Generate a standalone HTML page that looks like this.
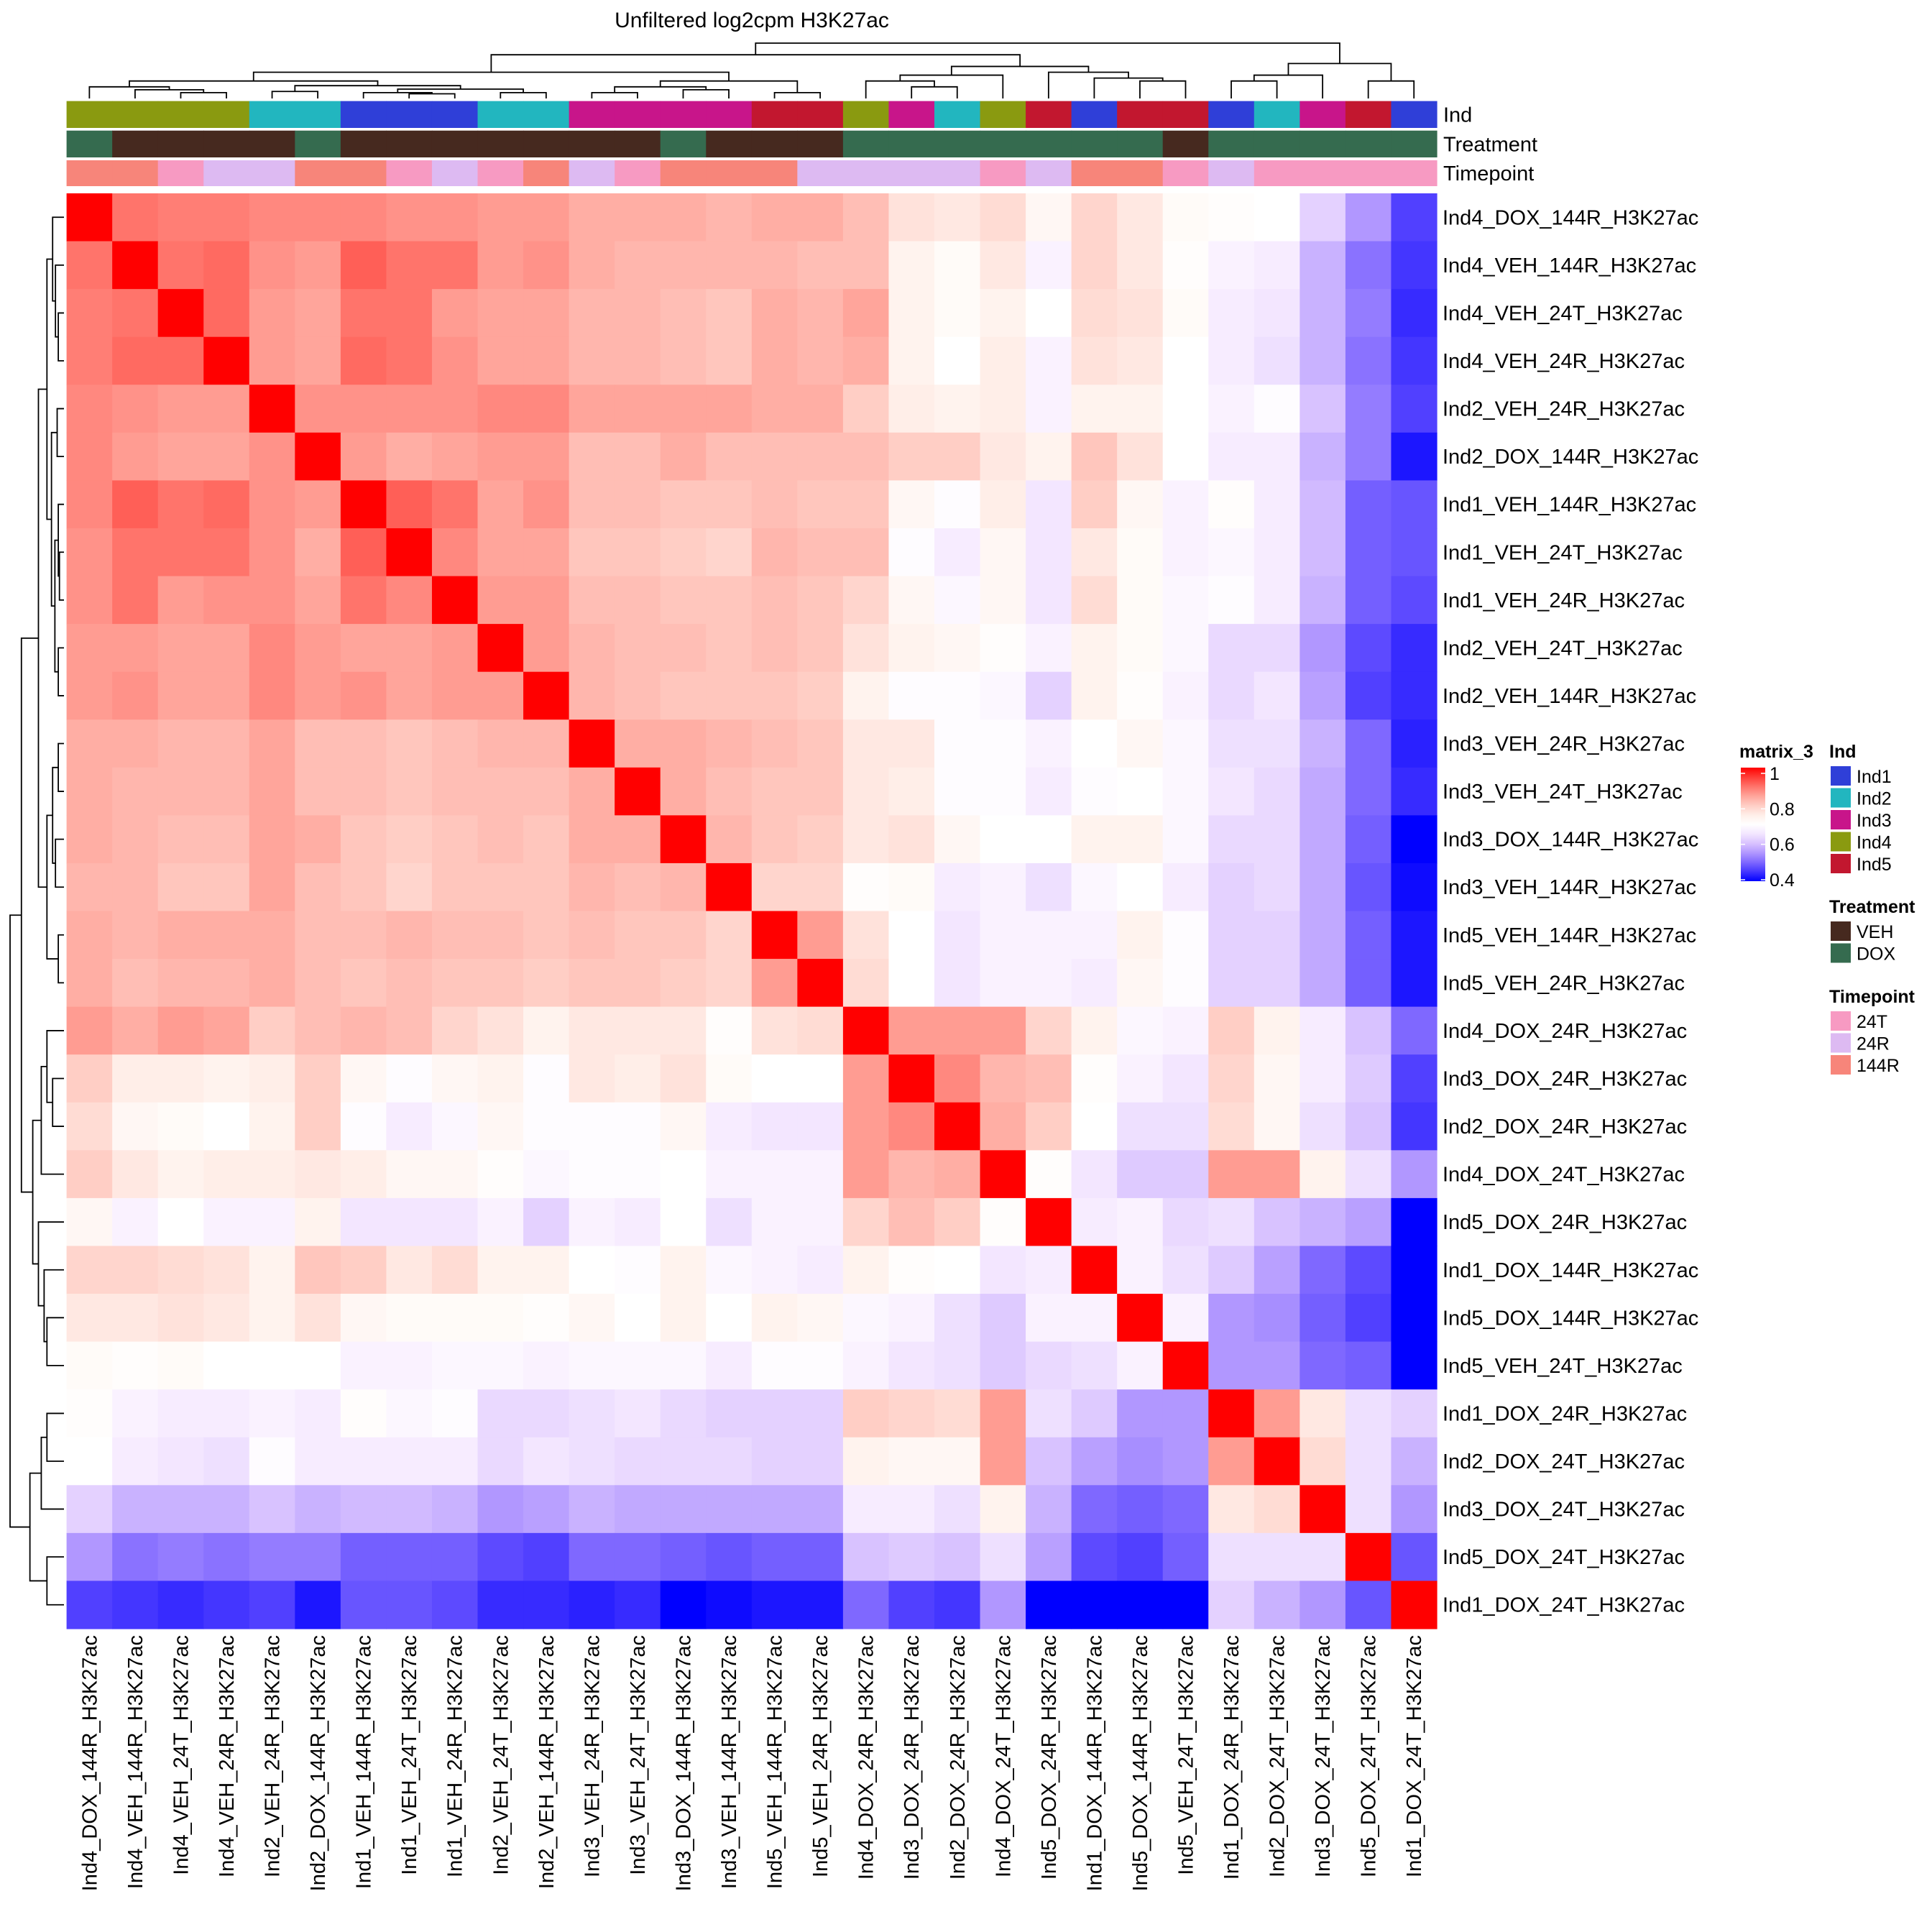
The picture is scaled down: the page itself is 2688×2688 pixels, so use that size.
<!DOCTYPE html>
<html><head><meta charset="utf-8">
<style>
html,body{margin:0;padding:0;background:#fff;}
svg{display:block;font-family:"Liberation Sans",Arial,sans-serif;}
</style></head>
<body>
<svg id="chart" width="2688" height="2688" viewBox="0 0 2688 2688" xmlns="http://www.w3.org/2000/svg">
<text x="1046" y="38" font-size="30" text-anchor="middle">Unfiltered log2cpm H3K27ac</text>
<g id="dendTop"></g>
<g id="dendLeft"></g>
<g id="annots"></g>
<g id="cells"></g>
<g id="rowLabels"></g>
<g id="colLabels"></g>
<g id="legend"></g>
</svg>
<script>
const labels = ["Ind4_DOX_144R","Ind4_VEH_144R","Ind4_VEH_24T","Ind4_VEH_24R","Ind2_VEH_24R","Ind2_DOX_144R","Ind1_VEH_144R","Ind1_VEH_24T","Ind1_VEH_24R","Ind2_VEH_24T","Ind2_VEH_144R","Ind3_VEH_24R","Ind3_VEH_24T","Ind3_DOX_144R","Ind3_VEH_144R","Ind5_VEH_144R","Ind5_VEH_24R","Ind4_DOX_24R","Ind3_DOX_24R","Ind2_DOX_24R","Ind4_DOX_24T","Ind5_DOX_24R","Ind1_DOX_144R","Ind5_DOX_144R","Ind5_VEH_24T","Ind1_DOX_24R","Ind2_DOX_24T","Ind3_DOX_24T","Ind5_DOX_24T","Ind1_DOX_24T"];
const values = [
[1,.9,.89,.89,.88,.88,.88,.87,.87,.86,.86,.84,.84,.84,.83,.84,.84,.82,.77,.76,.78,.73,.79,.76,.72,.71,.70,.62,.55,.46],
[.9,1,.9,.91,.87,.86,.92,.9,.9,.86,.87,.84,.83,.83,.83,.83,.82,.82,.74,.72,.76,.67,.79,.76,.71,.67,.66,.58,.51,.45],
[.89,.9,1,.91,.86,.85,.9,.9,.86,.85,.85,.83,.83,.82,.81,.84,.83,.85,.74,.72,.74,.70,.78,.77,.72,.66,.65,.58,.52,.44],
[.89,.91,.91,1,.86,.85,.91,.9,.87,.85,.85,.83,.83,.82,.81,.84,.83,.84,.74,.70,.75,.67,.77,.76,.70,.66,.64,.58,.51,.45],
[.88,.87,.86,.86,1,.87,.87,.87,.87,.88,.88,.85,.85,.85,.85,.84,.84,.80,.75,.74,.75,.67,.74,.74,.70,.67,.69,.60,.52,.46],
[.88,.86,.85,.85,.87,1,.86,.84,.85,.86,.86,.82,.82,.84,.82,.82,.82,.82,.80,.80,.76,.74,.81,.77,.70,.66,.66,.58,.52,.42],
[.88,.92,.9,.91,.87,.86,1,.92,.9,.85,.87,.82,.82,.81,.81,.82,.81,.81,.73,.69,.75,.65,.80,.73,.67,.71,.66,.59,.49,.48],
[.87,.9,.9,.9,.87,.84,.92,1,.88,.85,.85,.81,.81,.80,.79,.83,.82,.82,.69,.66,.73,.65,.76,.72,.67,.68,.66,.59,.49,.48],
[.87,.9,.86,.87,.87,.85,.9,.88,1,.86,.86,.82,.82,.81,.81,.82,.81,.79,.73,.68,.73,.65,.78,.72,.68,.69,.66,.58,.49,.47],
[.86,.86,.85,.85,.88,.86,.85,.85,.86,1,.86,.83,.82,.82,.81,.82,.81,.77,.74,.73,.71,.67,.74,.72,.68,.63,.63,.55,.47,.44],
[.86,.87,.85,.85,.88,.86,.87,.85,.86,.86,1,.83,.82,.81,.81,.81,.80,.74,.69,.69,.68,.62,.74,.71,.67,.63,.65,.56,.46,.44],
[.84,.84,.83,.83,.85,.82,.82,.81,.82,.83,.83,1,.84,.84,.83,.82,.81,.76,.76,.69,.69,.67,.70,.73,.68,.64,.64,.58,.50,.43],
[.84,.83,.83,.83,.85,.82,.82,.81,.82,.82,.82,.84,1,.84,.82,.81,.81,.76,.75,.69,.69,.66,.69,.70,.68,.65,.63,.57,.50,.44],
[.84,.83,.82,.82,.85,.84,.81,.80,.81,.82,.81,.84,.84,1,.83,.81,.80,.76,.77,.73,.70,.70,.74,.74,.68,.63,.63,.57,.49,.40],
[.83,.83,.81,.81,.85,.82,.81,.79,.81,.81,.81,.83,.82,.83,1,.79,.79,.71,.72,.66,.67,.64,.68,.70,.66,.62,.63,.57,.48,.41],
[.84,.83,.84,.84,.84,.82,.82,.83,.82,.82,.81,.82,.81,.81,.79,1,.86,.77,.70,.65,.67,.67,.67,.74,.69,.62,.62,.57,.49,.42],
[.84,.82,.83,.83,.84,.82,.81,.82,.81,.81,.80,.81,.81,.80,.79,.86,1,.78,.70,.65,.67,.67,.66,.73,.69,.62,.62,.57,.49,.42],
[.86,.84,.86,.85,.80,.82,.83,.82,.79,.77,.74,.76,.76,.76,.71,.77,.78,1,.86,.86,.86,.79,.74,.68,.67,.80,.74,.66,.60,.50],
[.80,.75,.75,.74,.75,.80,.73,.69,.73,.74,.69,.76,.75,.77,.72,.70,.70,.86,1,.88,.83,.82,.71,.67,.65,.79,.73,.66,.61,.46],
[.78,.73,.72,.70,.74,.80,.69,.66,.68,.73,.69,.69,.69,.73,.66,.65,.65,.86,.88,1,.84,.80,.70,.64,.64,.78,.73,.64,.60,.45],
[.80,.76,.74,.75,.75,.76,.75,.73,.73,.71,.68,.69,.69,.70,.67,.67,.67,.86,.83,.84,1,.71,.65,.61,.61,.86,.86,.74,.64,.55],
[.73,.67,.70,.67,.67,.74,.65,.65,.65,.67,.62,.67,.66,.70,.64,.67,.67,.79,.82,.80,.71,1,.66,.67,.63,.64,.60,.58,.56,.40],
[.79,.79,.78,.77,.74,.81,.80,.76,.78,.74,.74,.70,.69,.74,.68,.67,.66,.74,.71,.70,.65,.66,1,.67,.64,.61,.56,.50,.47,.40],
[.76,.76,.77,.76,.74,.77,.73,.72,.72,.72,.71,.73,.70,.74,.70,.74,.73,.68,.67,.64,.61,.67,.67,1,.67,.55,.54,.49,.46,.40],
[.72,.71,.72,.70,.70,.70,.67,.67,.68,.68,.67,.68,.68,.68,.66,.69,.69,.67,.65,.64,.61,.63,.64,.67,1,.55,.55,.50,.49,.40],
[.71,.67,.66,.66,.67,.66,.71,.68,.69,.63,.63,.64,.65,.63,.62,.62,.62,.80,.79,.78,.86,.64,.61,.55,.55,1,.86,.76,.64,.62],
[.70,.66,.65,.64,.69,.66,.66,.66,.66,.63,.65,.64,.63,.63,.63,.62,.62,.74,.73,.73,.86,.60,.56,.54,.55,.86,1,.78,.64,.58],
[.62,.58,.58,.58,.60,.58,.59,.59,.58,.55,.56,.58,.57,.57,.57,.57,.57,.66,.66,.64,.74,.58,.50,.49,.50,.76,.78,1,.64,.55],
[.55,.51,.52,.51,.52,.52,.49,.49,.49,.47,.46,.50,.50,.49,.48,.49,.49,.60,.61,.60,.64,.56,.47,.46,.49,.64,.64,.64,1,.48],
[.46,.45,.44,.45,.46,.42,.48,.48,.47,.44,.44,.43,.44,.40,.41,.42,.42,.50,.46,.45,.55,.40,.40,.40,.40,.62,.58,.55,.48,1]
];
const legendTicks = [1,0.8,0.6,0.4];
const indLevels = ["Ind1","Ind2","Ind3","Ind4","Ind5"];
const treatLevels = ["VEH","DOX"];
const timeLevels = ["24T","24R","144R"];
const tree = [0.95,[0.75,[0.45,[0.3,[0.2,0,[0.15,1,[0.1,2,3]]],[0.22,[0.12,4,5],[0.16,[0.1,6,[0.08,7,8]],[0.1,9,10]]]],[0.3,[0.2,[0.1,11,12],[0.15,13,14]],[0.1,15,16]]],[0.55,[0.4,[0.3,17,[0.2,18,19]],20],[0.45,21,[0.35,22,[0.3,23,24]]]]],[0.6,[0.4,[0.3,25,26],27],[0.3,28,29]]];

const NS="http://www.w3.org/2000/svg";
const X0=92.6,X1=1999,Y0=269,Y1=2266,N=labels.length;
const cw=(X1-X0)/N,ch=(Y1-Y0)/N;
const xPos=i=>X0+i*cw, yPos=i=>Y0+i*ch;
const indCol={Ind1:"#2f3fd8",Ind2:"#22b6bf",Ind3:"#c8158a",Ind4:"#8a9a10",Ind5:"#c2172f"};
const trCol={VEH:"#46291f",DOX:"#356b4f"};
const tpCol={"24T":"#f79ac2","24R":"#ddbaf2","144R":"#f7857a"};
function mk(tag,attrs,parent){const e=document.createElementNS(NS,tag);for(const k in attrs)e.setAttribute(k,attrs[k]);parent.appendChild(e);return e;}
function color(v){
  let r,g,b;
  if(v>=0.7){const t=Math.min(1,(v-0.7)/0.3);r=255;g=Math.round(255*(1-Math.pow(t,1.5)));b=Math.round(255*(1-Math.pow(t,1.35)));}
  else{const t=Math.min(1,Math.max(0,(0.7-v)/0.3));r=Math.round(255*(1-Math.pow(t,1.7)));g=Math.round(255*(1-Math.pow(t,1.3)));b=255;}
  return `rgb(${r},${g},${b})`;
}
const cells=document.getElementById('cells');
for(let r=0;r<N;r++)for(let c=0;c<N;c++){
  const e=mk('rect',{x:xPos(c),y:yPos(r),width:cw+0.6,height:ch+0.6,fill:color(values[r][c])},cells);
  
  
}
const ann=document.getElementById('annots');
const rows=[[140.6,178,n=>indCol[n.split('_')[0]]],[181.7,219,n=>trCol[n.split('_')[1]]],[223,259,n=>tpCol[n.split('_')[2]]]];
const annNames=['ind-annotation-cell','treatment-annotation-cell','timepoint-annotation-cell'];
rows.forEach((rw,k)=>{labels.forEach((n,i)=>{
  const e=mk('rect',{x:xPos(i),y:rw[0],width:cw+0.6,height:rw[1]-rw[0],fill:rw[2](n)},ann);
  
  
});});
const annTitles=["Ind","Treatment","Timepoint"];
annTitles.forEach((t,k)=>{const e=mk('text',{x:2008,y:(rows[k][0]+rows[k][1])/2+10,'font-size':29},ann);e.textContent=t;
  
  });
const rl=document.getElementById('rowLabels'),cl=document.getElementById('colLabels');
labels.forEach((n,i)=>{
  const t=mk('text',{x:2007,y:yPos(i)+ch/2+10,'font-size':29},rl);t.textContent=n+"_H3K27ac";
  
  
  const cx=xPos(i)+cw/2+10;
  const u=mk('text',{x:cx,y:2275,'font-size':29,'text-anchor':'end',transform:`rotate(-90 ${cx} 2275)`},cl);u.textContent=n+"_H3K27ac";
  
  
});
function drawTree(node,g,leafPos,hPos){
  if(typeof node==='number')return {p:leafPos(node),h:hPos(0)};
  const a=drawTree(node[1],g,leafPos,hPos),b=drawTree(node[2],g,leafPos,hPos),h=hPos(node[0]);
  return {p:(a.p+b.p)/2,h,a,b};
}
function render(res,g,top){
  if(!res.a)return;
  const pts=top?`M${res.a.p},${res.a.h}V${res.h}H${res.b.p}V${res.b.h}`:`M${res.a.h},${res.a.p}H${res.h}V${res.b.p}H${res.b.h}`;
  const e=mk('path',{d:pts,fill:'none',stroke:'#000','stroke-width':1.8},g);
  
  
  render(res.a,g,top);render(res.b,g,top);
}
const dt=document.getElementById('dendTop'),dl=document.getElementById('dendLeft');
render(drawTree(tree,dt,i=>xPos(i)+cw/2,h=>137-h/0.95*77),dt,true);
render(drawTree(tree,dl,i=>yPos(i)+ch/2,h=>89-h/0.95*75),dl,false);
const lg=document.getElementById('legend');
function txt(s,x,y,size,bold,name){const e=mk('text',{x,y,'font-size':size,'font-weight':bold?'bold':'normal'},lg);e.textContent=s;
  
  return e;}
txt("matrix_3",2420,1054,25,true,'color-legend-title');
const gradId='grad';const defs=mk('defs',{},lg);const lgr=mk('linearGradient',{id:gradId,x1:0,y1:0,x2:0,y2:1},defs);
for(let k=0;k<=12;k++){const v=1-k*0.05;mk('stop',{offset:(k/12),'stop-color':color(v)},lgr);}
const cb=mk('rect',{x:2422,y:1068,width:34,height:158,fill:`url(#${gradId})`},lg);


const ly=v=>1076+(1-v)/0.6*148;
legendTicks.forEach(v=>{
  const y=ly(v);
  mk('line',{x1:2422,x2:2428,y1:y,y2:y,stroke:'#fff','stroke-width':1.5},lg);
  mk('line',{x1:2450,x2:2456,y1:y,y2:y,stroke:'#fff','stroke-width':1.5},lg);
  txt(String(v),2462,y+9,25,false,'color-bar-tick');
});
function catLegend(title,levels,cols,ty){
  txt(title,2545,ty,25,true,'legend-title');
  levels.forEach((l,i)=>{
    const y=ty+12+i*30.5;
    const r=mk('rect',{x:2547,y:y,width:28,height:27,fill:cols[l]},lg);
    
    
    txt(l,2583,y+23,25,false,'legend-entry');
  });
}
catLegend("Ind",indLevels,indCol,1054);
catLegend("Treatment",treatLevels,trCol,1270);
catLegend("Timepoint",timeLevels,tpCol,1395);
</script>
</body></html>
